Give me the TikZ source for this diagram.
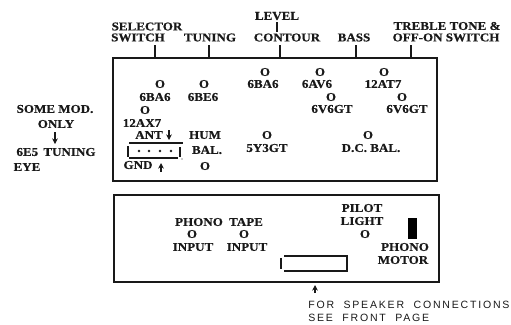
\documentclass[tikz,border=0pt]{standalone}
\usepackage{fontspec}
\setmainfont[FakeStretch=1.09,BoldFeatures={FakeBold=0.5}]{Liberation Serif}
\newfontfamily\notefont[LetterSpace=17,WordSpace=2]{Liberation Sans}
\definecolor{inkblack}{RGB}{25,25,25}
\usetikzlibrary{arrows.meta,positioning}
\tikzset{
  lab/.style={inner sep=0pt,text=inkblack,font=\fontsize{8.5}{8.5}\selectfont\bfseries},
  note/.style={inner sep=0pt,anchor=west,text=inkblack,font=\fontsize{7.5}{7.5}\selectfont\notefont},
  panel/.style={draw=inkblack,line width=1.2pt},
  tick/.style={draw=inkblack,line width=0.9pt},
  ptr/.style={draw=inkblack,line width=0.8pt,-{Stealth[length=4pt,width=4pt]}}
}
\begin{document}
\begin{tikzpicture}[x=0.025cm,y=-0.025cm]
  \useasboundingbox (0,0) rectangle (511,324);
  %% Panels
  \draw[panel] (113,58) rectangle (437,181);
  \draw[panel] (114,195) rectangle (439,282);
  %% Control labels above the chassis
  \node[lab] (selector) at (147,26.5) {SELECTOR};
  \node[lab] (switch) at (138,37.5) {SWITCH};
  \node[lab] (tuning) at (210,37.5) {TUNING};
  \node[lab] (level) at (277,16) {LEVEL};
  \node[lab] (contour) at (287,37.5) {CONTOUR};
  \node[lab] (bass) at (354,37.5) {BASS};
  \node[lab] (treble) at (447,26) {TREBLE TONE \&};
  \node[lab] (offon) at (446,37.5) {OFF-ON SWITCH};
  %% Ticks down to the panel
  \coordinate (leveltop) at (277,22);
  \coordinate (levelend) at (277,32);
  \draw[tick] (leveltop) -- (levelend);
  \foreach \tx/\tname in {155/sel,209/tun,280/con,356/bas,411/tre}{
    \coordinate (\tname up) at (\tx,45);
    \coordinate (\tname dn) at (\tx,58);
    \draw[tick] (\tname up) -- (\tname dn);
  }
  %% Side note
  \node[lab] (somemod) at (55,109) {SOME MOD.};
  \node[lab] (only) at (56,124) {ONLY};
  \node[lab] (eyetube) at (56,152) {6E5\, TUNING};
  \node[lab] (eye) at (27,167) {EYE};
  \coordinate (eyeup) at (55,132);
  \coordinate (eyedn) at (55,144);
  \draw[ptr] (eyeup) -- (eyedn);
  %% Upper panel, tubes
  \node[lab] (o1) at (160,84) {O};
  \node[lab] (o2) at (204,84) {O};
  \node[lab] (o3) at (265,72) {O};
  \node[lab] (o4) at (320,72) {O};
  \node[lab] (o5) at (384,72) {O};
  \node[lab] (o6) at (331,97) {O};
  \node[lab] (o7) at (402,97) {O};
  \node[lab] (o8) at (145,110) {O};
  \node[lab] (o9) at (267,135) {O};
  \node[lab] (o10) at (368,135) {O};
  \node[lab] (o11) at (205,166) {O};
  \node[lab] (ba6a) at (155,97) {6BA6};
  \node[lab] (be6) at (203,97) {6BE6};
  \node[lab] (ba6b) at (263,84) {6BA6};
  \node[lab] (av6) at (317,84) {6AV6};
  \node[lab] (at7) at (383,84) {12AT7};
  \node[lab] (v6a) at (332,109) {6V6GT};
  \node[lab] (v6b) at (407,109) {6V6GT};
  \node[lab] (ax7) at (142,123) {12AX7};
  \node[lab] (y3) at (267,148) {5Y3GT};
  \node[lab] (dcbal) at (371,148) {D.C.\ BAL.};
  \node[lab] (hum) at (205,135) {HUM};
  \node[lab] (bal) at (207,150) {BAL.};
  \node[lab] (ant) at (149,135) {ANT};
  \node[lab] (gnd) at (138,165) {GND};
  %% Antenna strip
  \draw[tick] (129,143) -- (183,143);
  \draw[tick] (128,146) -- (128,157);
  \draw[tick] (129,158) -- (178,158);
  \draw[tick] (180,147) -- (180,157);
  \fill[inkblack] (182,159) circle (0.4pt);
  \foreach \dx in {139,149,160,171}
    \fill[inkblack] (\dx,151) circle (1pt);
  \coordinate (antup) at (169,130);
  \coordinate (antdn) at (169,140);
  \draw[ptr] (antup) -- (antdn);
  \coordinate (gnddn) at (161,172);
  \coordinate (gndup) at (161,163);
  \draw[ptr] (gnddn) -- (gndup);
  %% Lower panel
  \node[lab] (phono) at (199,222) {PHONO};
  \node[lab] (tape) at (246,222) {TAPE};
  \node[lab] (o12) at (192,234) {O};
  \node[lab] (o13) at (244,234) {O};
  \node[lab] (inputa) at (193,247) {INPUT};
  \node[lab] (inputb) at (247,247) {INPUT};
  \node[lab] (pilot) at (362,208) {PILOT};
  \node[lab] (light) at (362,221) {LIGHT};
  \node[lab] (o14) at (365,234) {O};
  \node[lab] (phonom) at (405,247) {PHONO};
  \node[lab] (motor) at (403,260) {MOTOR};
  \fill[black] (408,218) rectangle (417,239);
  %% Speaker socket
  \draw[tick] (284,256) -- (347,256) -- (347,271) -- (284,271);
  \draw[tick] (281,258) -- (281,269);
  \coordinate (spkdn) at (315,293);
  \coordinate (spkup) at (315,285);
  \draw[ptr] (spkdn) -- (spkup);
  \node[note] (spkone) at (308,305) {FOR SPEAKER CONNECTIONS};
  \node[note] (spktwo) at (308,318) {SEE FRONT PAGE};
\end{tikzpicture}
\end{document}
